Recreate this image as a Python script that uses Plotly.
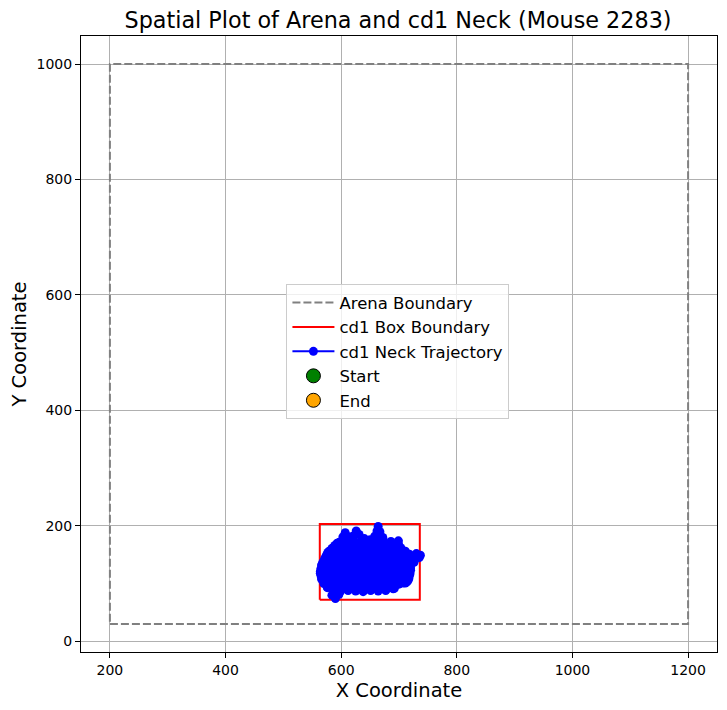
import plotly.graph_objects as go

# arena + cd1 box corners (data coords)
arena_x = [200, 1200, 1200, 200, 200]
arena_y = [30, 30, 1000, 1000, 30]
box_x = [563, 736, 736, 563, 563]
box_y = [72, 72, 203, 203, 72]

# cd1 neck trajectory
neck_x = [
    584, 597, 610, 623, 636, 649, 662, 675, 688, 700, 711,
    716, 704, 691, 678, 665, 652, 639, 626, 613, 600, 587, 574,
    565, 578, 591, 604, 617, 630, 643, 656, 669, 682, 695, 708, 718,
    720, 707, 694, 681, 668, 655, 642, 629, 616, 603, 590, 577, 564,
    566, 579, 592, 605, 618, 631, 644, 657, 670, 683, 696, 709, 720,
    734, 721, 708, 695, 682, 669, 656, 643, 630, 617, 604, 591, 578, 571,
    575, 588, 601, 614, 627, 640, 653, 666, 679, 692, 705, 718, 730, 737,
    706, 693, 680, 667, 654, 641, 628, 615, 602, 589, 579,
    589, 602, 615, 628, 641, 654, 667, 680, 692, 699,
    699, 686, 673, 660, 647, 634, 621, 608, 598,
    603, 607, 612, 620, 626, 631, 640, 650, 658, 662, 664, 667, 672,
    690, 677, 664, 651, 638, 625, 612, 599, 586, 576,
    584, 590, 596, 570, 566,
    578, 591, 604, 617, 630, 643, 656, 669, 682, 695, 707, 714,
    717, 711, 698, 685, 672, 659, 646, 633, 620, 607, 594, 581, 569,
    564, 572, 585, 598, 611, 624, 637, 650, 663, 676, 689, 702, 714, 719,
    720, 713, 700, 687, 674, 661, 648, 635, 622, 609, 596, 583, 570, 565,
    568, 573, 586, 599, 612, 625, 638, 651, 664, 677, 690, 703, 715, 726,
    735, 727, 714, 701, 688, 675, 662, 649, 636, 623, 610, 597, 584, 573,
    577, 582, 595, 608, 621, 634, 647, 660, 673, 686, 699, 711,
    703, 699, 686, 673, 660, 647, 634, 621, 608, 595, 584,
    593, 596, 609, 622, 635, 648, 661, 674, 687, 698,
    692, 679, 666, 653, 640, 627, 614, 601, 590,
]
neck_y = [
    95, 97, 96, 94, 96, 97, 95, 96, 98, 99, 101,
    106, 104, 105, 103, 106, 104, 105, 103, 106, 104, 105, 104,
    114, 113, 115, 114, 113, 115, 114, 113, 115, 114, 113, 115, 114,
    123, 124, 122, 123, 125, 122, 124, 123, 122, 124, 123, 122, 121,
    132, 131, 133, 132, 131, 133, 132, 131, 133, 132, 131, 133, 132,
    146, 141, 142, 140, 141, 142, 140, 141, 142, 140, 141, 142, 140, 142,
    150, 149, 151, 150, 149, 151, 150, 149, 151, 150, 149, 151, 152, 149,
    158, 159, 157, 158, 159, 157, 158, 159, 157, 158, 156,
    166, 165, 167, 166, 165, 167, 166, 165, 167, 168,
    174, 173, 172, 175, 174, 173, 175, 174, 172,
    181, 188, 181, 182, 191, 185, 178, 176, 182, 191, 199, 190, 180,
    91, 88, 87, 88, 86, 87, 88, 87, 89, 93,
    80, 74, 81, 100, 108,
    100, 101, 99, 100, 101, 99, 100, 101, 99, 100, 101, 103,
    109, 110, 108, 109, 110, 108, 109, 110, 108, 109, 110, 108, 109,
    118, 117, 119, 118, 117, 119, 118, 117, 119, 118, 117, 119, 118, 117,
    127, 128, 126, 127, 128, 126, 127, 128, 126, 127, 128, 126, 127, 126,
    136, 137, 135, 136, 137, 135, 136, 137, 135, 136, 137, 135, 136, 137,
    145, 146, 144, 145, 146, 144, 145, 146, 144, 145, 146, 144, 145, 146,
    154, 155, 153, 154, 155, 153, 154, 155, 153, 154, 155, 156,
    162, 163, 161, 162, 163, 161, 162, 163, 161, 162, 161,
    170, 171, 169, 170, 171, 169, 170, 171, 169, 170,
    92, 91, 92, 91, 92, 91, 92, 91, 90,
]
start_x, start_y = [640], [120]
end_x, end_y = [655], [130]

fig = go.Figure()
fig.add_trace(go.Scatter(
    x=arena_x, y=arena_y, mode='lines', name='Arena Boundary', legendrank=1,
    line=dict(color='gray', width=2, dash='8px,3px')
))
fig.add_trace(go.Scatter(
    x=box_x, y=box_y, mode='lines', name='cd1 Box Boundary', legendrank=2,
    line=dict(color='red', width=2)
))
# start/end sit under the trajectory like matplotlib scatter zorder
fig.add_trace(go.Scatter(
    x=start_x, y=start_y, mode='markers', name='Start', legendrank=4,
    marker=dict(color='green', size=14, line=dict(color='black', width=1))
))
fig.add_trace(go.Scatter(
    x=end_x, y=end_y, mode='markers', name='End', legendrank=5,
    marker=dict(color='orange', size=14, line=dict(color='black', width=1))
))
fig.add_trace(go.Scatter(
    x=neck_x, y=neck_y, mode='lines+markers', name='cd1 Neck Trajectory',
    legendrank=3,
    line=dict(color='blue', width=2),
    marker=dict(color='blue', size=9, line=dict(width=0))
))

axis_style = dict(
    showline=True, linecolor='black', linewidth=1, mirror=True,
    ticks='outside', ticklen=5, tickcolor='black',
    showgrid=True, gridcolor='#b0b0b0', gridwidth=1,
    zeroline=False, tickfont=dict(size=14, color='black'),
    automargin=False,
)
# page is drawn 8px in from the window corner, margins account for that
fig.update_layout(
    width=727, height=710,
    margin=dict(l=73, r=18, t=28, b=66),
    paper_bgcolor='white', plot_bgcolor='white',
    font=dict(family='DejaVu Sans', color='black'),
    title=dict(text='Spatial Plot of Arena and cd1 Neck (Mouse 2283)',
               x=0.5365, xanchor='center', y=0.983, yanchor='middle',
               font=dict(size=22.3)),
    xaxis=dict(range=[150, 1250], tickvals=[200, 400, 600, 800, 1000, 1200],
               title=dict(text='X Coordinate', font=dict(size=19.5), standoff=6),
               **axis_style),
    yaxis=dict(range=[-18.5, 1048.5], tickvals=[0, 200, 400, 600, 800, 1000],
               title=dict(text='Y Coordinate', font=dict(size=19.5), standoff=5),
               **axis_style),
    legend=dict(x=0.323, y=0.597, xanchor='left', yanchor='top',
                traceorder='normal', itemwidth=42,
                bgcolor='rgba(255,255,255,0.8)', bordercolor='#cccccc',
                borderwidth=1, font=dict(size=16.5)),
)
fig.write_html("out.html")
